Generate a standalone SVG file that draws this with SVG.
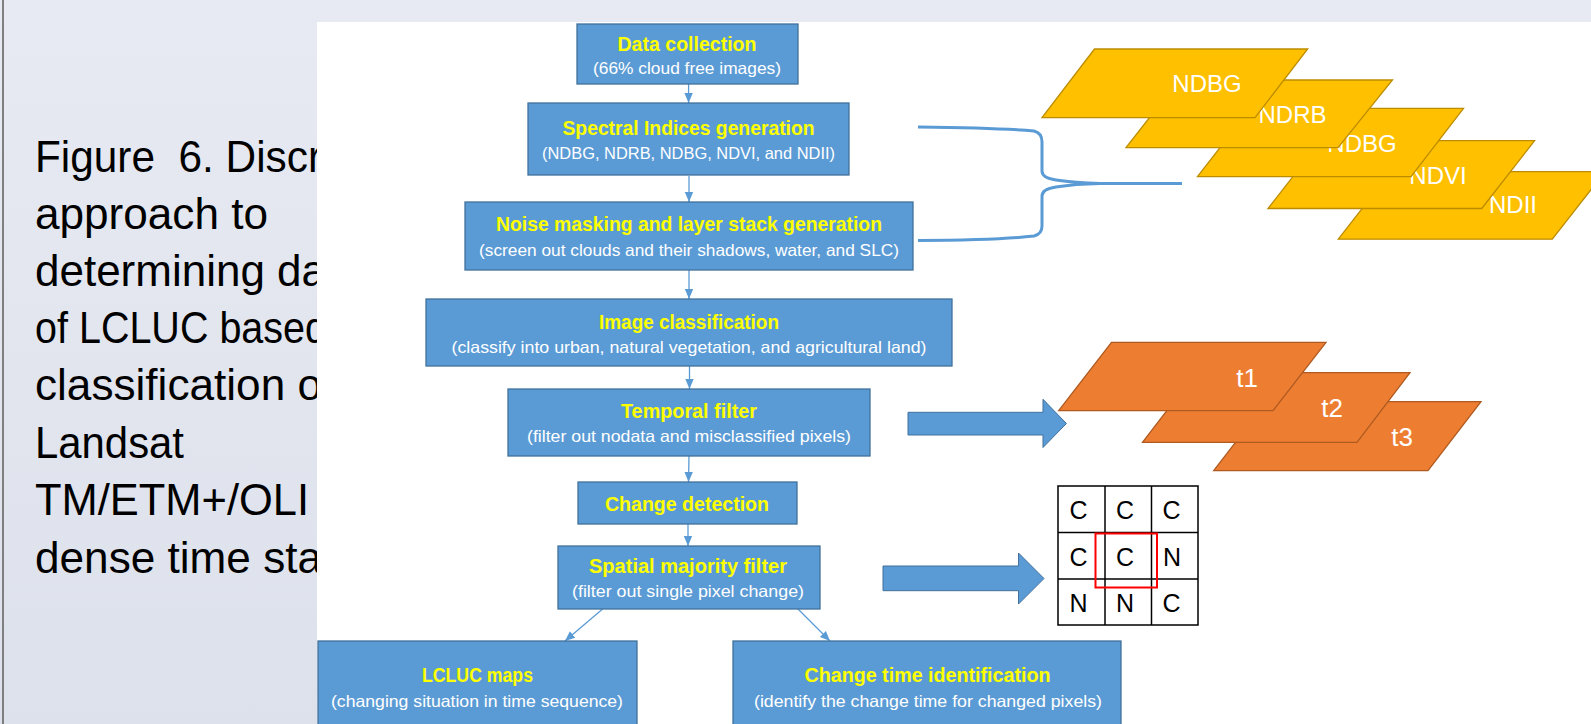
<svg xmlns="http://www.w3.org/2000/svg" width="1591" height="724" viewBox="0 0 1591 724">
<defs>
<linearGradient id="bg" x1="0" y1="0" x2="0" y2="1">
<stop offset="0" stop-color="#E7EAF2"/>
<stop offset="1" stop-color="#DDE1EB"/>
</linearGradient>
<marker id="ah" markerUnits="userSpaceOnUse" markerWidth="10" markerHeight="10" viewBox="0 0 10 10" refX="10" refY="5" orient="auto">
<path d="M0,0.8 L10,5 L0,9.2 Z" fill="#5B9BD5"/>
</marker>
<style>
.fig{font-family:"Liberation Sans",Arial,sans-serif;font-size:44px;fill:#000}
.box{fill:#5B9BD5;stroke:#41719C;stroke-width:1.3}
.tt{font-family:"Liberation Sans",Arial,sans-serif;font-weight:bold;font-size:19.5px;fill:#FFFF00;text-anchor:middle}
.st{font-family:"Liberation Sans",Arial,sans-serif;font-size:16.5px;fill:#FFFFFF;text-anchor:middle}
.con{stroke:#5B9BD5;stroke-width:1.3;fill:none;marker-end:url(#ah)}
.big{fill:#5B9BD5;stroke:#41719C;stroke-width:1}
.yl{fill:#FFC000;stroke:#BC8C00;stroke-width:1.3}
.or{fill:#ED7D31;stroke:#AE5A21;stroke-width:1.3}
.lab{font-family:"Liberation Sans",Arial,sans-serif;font-size:24px;fill:#FFFFFF;text-anchor:middle}
.tl{font-family:"Liberation Sans",Arial,sans-serif;font-size:26px;fill:#FFFFFF;text-anchor:middle}
.gl{font-family:"Liberation Sans",Arial,sans-serif;font-size:25px;fill:#000;text-anchor:middle}
</style>
</defs>
<rect x="0" y="0" width="1591" height="724" fill="url(#bg)"/>
<line x1="3" y1="0" x2="3" y2="724" stroke="#7F7F7F" stroke-width="2"/>
<g id="caption">
<text class="fig" x="35" y="172" xml:space="preserve" textLength="287" lengthAdjust="spacingAndGlyphs">Figure  6. Discr</text>
<text class="fig" x="35" y="229" textLength="233" lengthAdjust="spacingAndGlyphs">approach to</text>
<text class="fig" x="35" y="286" textLength="291" lengthAdjust="spacingAndGlyphs">determining da</text>
<text class="fig" x="35" y="343" textLength="292" lengthAdjust="spacingAndGlyphs">of LCLUC based</text>
<text class="fig" x="35" y="400" textLength="287" lengthAdjust="spacingAndGlyphs">classification o</text>
<text class="fig" x="35" y="458" textLength="149" lengthAdjust="spacingAndGlyphs">Landsat</text>
<text class="fig" x="35" y="515" textLength="274" lengthAdjust="spacingAndGlyphs">TM/ETM+/OLI</text>
<text class="fig" x="35" y="573" textLength="287" lengthAdjust="spacingAndGlyphs">dense time sta</text>
</g>
<rect id="panel" x="317" y="22" width="1280" height="710" fill="#FFFFFF"/>
<g id="connectors">
<line class="con" x1="688.6" y1="84" x2="688.6" y2="103"/>
<line class="con" x1="689" y1="176" x2="689" y2="202"/>
<line class="con" x1="689" y1="270" x2="689" y2="299"/>
<line class="con" x1="689.5" y1="366" x2="689.5" y2="389"/>
<line class="con" x1="689" y1="456" x2="688.5" y2="482"/>
<line class="con" x1="688" y1="524" x2="688" y2="546"/>
<line class="con" x1="602.6" y1="609" x2="565" y2="641"/>
<line class="con" x1="798" y1="609" x2="830" y2="641"/>
<path d="M918,127 Q1000,128 1034,131 Q1042,133 1042,142 L1042,171 Q1042,178 1056,180 Q1075,183 1100,183.5 L1182,183.5 M1100,183.5 Q1075,184 1056,187 Q1042,189 1042,196 L1042,226 Q1042,234 1034,236 Q1000,240 918,240.5" fill="none" stroke="#5B9BD5" stroke-width="3"/>
<polygon class="big" points="908,412.3 1043,412.3 1043,399.3 1066.4,423.5 1043,447.5 1043,435 908,435"/>
<polygon class="big" points="883,566 1018.5,566 1018.5,553 1044,578.5 1018.5,604 1018.5,590.7 883,590.7"/>
</g>
<g id="n1">
<rect class="box" x="577" y="24" width="221" height="60"/>
<text class="tt" x="687" y="51" textLength="139" lengthAdjust="spacingAndGlyphs">Data collection</text>
<text class="st" x="687" y="74" textLength="188" lengthAdjust="spacingAndGlyphs">(66% cloud free images)</text>
</g>
<g id="n2">
<rect class="box" x="528" y="103" width="321" height="72"/>
<text class="tt" x="688.5" y="135" textLength="252" lengthAdjust="spacingAndGlyphs">Spectral Indices generation</text>
<text class="st" x="688.5" y="159" textLength="293" lengthAdjust="spacingAndGlyphs">(NDBG, NDRB, NDBG, NDVI, and NDII)</text>
</g>
<g id="n3">
<rect class="box" x="465" y="202" width="448" height="68"/>
<text class="tt" x="689" y="231" textLength="386" lengthAdjust="spacingAndGlyphs">Noise masking and layer stack generation</text>
<text class="st" x="689" y="256" textLength="420" lengthAdjust="spacingAndGlyphs">(screen out clouds and their shadows, water, and SLC)</text>
</g>
<g id="n4">
<rect class="box" x="426" y="299" width="526" height="67"/>
<text class="tt" x="689" y="329" textLength="180" lengthAdjust="spacingAndGlyphs">Image classification</text>
<text class="st" x="689" y="353" textLength="475" lengthAdjust="spacingAndGlyphs">(classify into urban, natural vegetation, and agricultural land)</text>
</g>
<g id="n5">
<rect class="box" x="508" y="389" width="362" height="67"/>
<text class="tt" x="689" y="418" textLength="136" lengthAdjust="spacingAndGlyphs">Temporal filter</text>
<text class="st" x="689" y="442" textLength="324" lengthAdjust="spacingAndGlyphs">(filter out nodata and misclassified pixels)</text>
</g>
<g id="n6">
<rect class="box" x="578" y="482" width="219" height="42"/>
<text class="tt" x="687" y="510.5" textLength="164" lengthAdjust="spacingAndGlyphs">Change detection</text>
</g>
<g id="n7">
<rect class="box" x="558" y="546" width="262" height="63"/>
<text class="tt" x="688" y="573" textLength="198" lengthAdjust="spacingAndGlyphs">Spatial majority filter</text>
<text class="st" x="688" y="597" textLength="232" lengthAdjust="spacingAndGlyphs">(filter out single pixel change)</text>
</g>
<g id="n8">
<rect class="box" x="318" y="641" width="319" height="95"/>
<text class="tt" x="477.5" y="681.5" textLength="111" lengthAdjust="spacingAndGlyphs">LCLUC maps</text>
<text class="st" x="477" y="706.5" textLength="292" lengthAdjust="spacingAndGlyphs">(changing situation in time sequence)</text>
</g>
<g id="n9">
<rect class="box" x="733" y="641" width="388" height="95"/>
<text class="tt" x="927.5" y="681.5" textLength="246" lengthAdjust="spacingAndGlyphs">Change time identification</text>
<text class="st" x="928" y="706.5" textLength="348" lengthAdjust="spacingAndGlyphs">(identify the change time for changed pixels)</text>
</g>
<g id="index-stack">
<polygon class="yl" points="1391,171.7 1605,171.7 1552.3,239.2 1338.3,239.2"/>
<text class="lab" x="1513" y="213">NDII</text>
<polygon class="yl" points="1321,140.7 1534.6,140.7 1481.7,208.5 1268,208.5"/>
<text class="lab" x="1438" y="184">NDVI</text>
<polygon class="yl" points="1250.5,108.3 1463.5,108.3 1411,176.7 1197.5,176.7"/>
<text class="lab" x="1362" y="151.5">NDBG</text>
<polygon class="yl" points="1179,80 1392.5,80 1338,147.7 1126,147.7"/>
<text class="lab" x="1292.5" y="122.7">NDRB</text>
<polygon class="yl" points="1094.5,49 1307.7,49 1255,117.7 1042,117.7"/>
<text class="lab" x="1207" y="92.3">NDBG</text>
</g>
<g id="time-stack">
<polygon class="or" points="1267,401.7 1481,401.7 1428,470.7 1213.7,470.7"/>
<text class="tl" x="1402" y="446">t3</text>
<polygon class="or" points="1196,372.7 1410,372.7 1357,442.3 1142.5,442.3"/>
<text class="tl" x="1332" y="417">t2</text>
<polygon class="or" points="1111.5,342.3 1326,342.3 1273,410.7 1058.7,410.7"/>
<text class="tl" x="1247" y="387">t1</text>
</g>
<g id="pixel-grid">
<rect x="1058" y="486" width="140" height="139" fill="#FFFFFF" stroke="#000" stroke-width="1.5"/>
<line x1="1105" y1="486" x2="1105" y2="625" stroke="#000" stroke-width="1.5"/>
<line x1="1151.5" y1="486" x2="1151.5" y2="625" stroke="#000" stroke-width="1.5"/>
<line x1="1058" y1="532.5" x2="1198" y2="532.5" stroke="#000" stroke-width="1.5"/>
<line x1="1058" y1="579" x2="1198" y2="579" stroke="#000" stroke-width="1.5"/>
<text class="gl" x="1078.5" y="519">C</text>
<text class="gl" x="1125" y="519">C</text>
<text class="gl" x="1171.5" y="519">C</text>
<text class="gl" x="1078.5" y="566">C</text>
<text class="gl" x="1125" y="566">C</text>
<text class="gl" x="1172" y="566">N</text>
<text class="gl" x="1078.5" y="612">N</text>
<text class="gl" x="1125" y="612">N</text>
<text class="gl" x="1171.5" y="612">C</text>
<rect x="1095.5" y="533.5" width="61.5" height="54" fill="none" stroke="#FF0000" stroke-width="2"/>
</g>
</svg>
